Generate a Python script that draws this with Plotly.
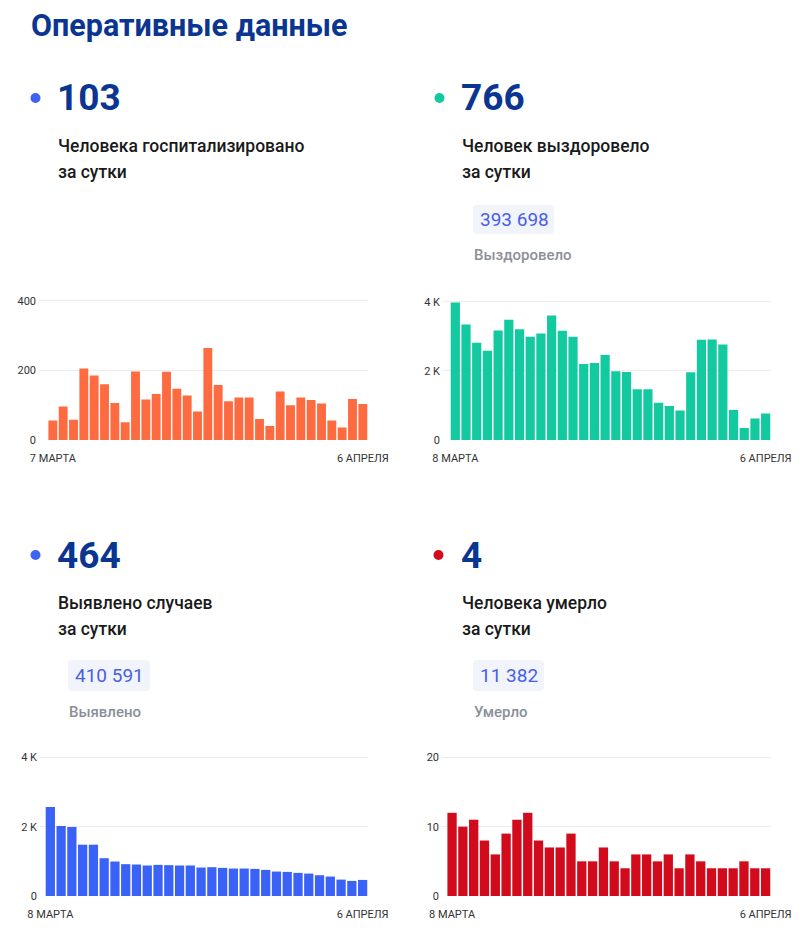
import pandas as pd
import plotly.graph_objects as go

W, H = 809, 939

# ---------------- data ----------------
dates_hosp = [d.strftime("%Y-%m-%d") for d in pd.date_range("2021-03-07", "2021-04-06")]
dates_30 = [d.strftime("%Y-%m-%d") for d in pd.date_range("2021-03-08", "2021-04-06")]

hospitalized = [56, 96, 58, 205, 185, 160, 106, 51, 197, 116, 132, 196, 147, 128, 82, 264,
                158, 111, 122, 122, 60, 40, 139, 100, 122, 115, 105, 56, 36, 118, 103]
recovered = [3980, 3340, 2810, 2580, 3170, 3480, 3200, 2985, 3080, 3600, 3160, 2985, 2200,
             2230, 2460, 1990, 1970, 1470, 1470, 1080, 985, 850, 1960, 2900, 2910, 2760,
             870, 350, 620, 766]
cases = [2570, 2020, 1990, 1480, 1480, 1090, 995, 918, 908, 880, 898, 889, 880, 880, 821,
         831, 811, 792, 792, 782, 753, 705, 695, 667, 647, 599, 560, 473, 435, 464]
deaths = [12, 10, 11, 8, 6, 9, 11, 12, 8, 7, 7, 9, 5, 5, 7, 5, 4, 6, 6, 5, 6, 4, 6, 5,
          4, 4, 4, 5, 4, 4]

title_text = "Оперативные данные"
big_numbers = ["103", "766", "464", "4"]
captions_1 = ["Человека госпитализировано", "Человек выздоровело", "Выявлено случаев", "Человека умерло"]
captions_2 = ["за сутки", "за сутки", "за сутки", "за сутки"]
totals = [None, "393 698", "410 591", "11 382"]
total_labels = [None, "Выздоровело", "Выявлено", "Умерло"]
x_start_labels = ["7 МАРТА", "8 МАРТА", "8 МАРТА", "8 МАРТА"]
x_end_label = "6 АПРЕЛЯ"
y_tickvals = [[0, 200, 400], [0, 2000, 4000], [0, 2000, 4000], [0, 10, 20]]
y_ticktext = [["0", "200", "400"], ["0", "2 K", "4 K"], ["0", "2 K", "4 K"], ["0", "10", "20"]]

# ---------------- styles ----------------
FONT = "Roboto"
DARK_BLUE = "#0a3590"
BAR_COLORS = ["#ff6b40", "#13c9a0", "#3a62f6", "#d10a1c"]
DOT_COLORS = ["#3d63f4", "#13c9a0", "#3d63f4", "#d10a1c"]


def px(x):
    return x / W


def py(y):
    return 1 - y / H


fig = go.Figure()

series = [(dates_hosp, hospitalized), (dates_30, recovered), (dates_30, cases), (dates_30, deaths)]
# plot areas in pixels: (left, right, top, bottom), y range max, left pad in category units
areas = [
    (39, 368, 293.7, 440, 420, -1.34),
    (443, 771, 294.8, 440, 4200, -1.15),
    (40, 368, 750.4, 896, 4200, -0.96),
    (442, 771, 750.4, 896, 21, -0.93),
]

layout_axes = {}
for i, ((xs, ys), (l, r, t, b, ymax, xpad)) in enumerate(zip(series, areas)):
    n = "" if i == 0 else str(i + 1)
    fig.add_trace(go.Bar(
        x=xs, y=ys, xaxis="x" + n, yaxis="y" + n,
        marker=dict(color=BAR_COLORS[i], line=dict(width=0)),
        hoverinfo="x+y", showlegend=False,
    ))
    layout_axes["xaxis" + n] = dict(
        domain=[px(l), px(r)], anchor="y" + n, type="category",
        range=[xpad, len(xs) - 0.5], showgrid=False, zeroline=False, showline=False,
        tickvals=[xs[0], xs[-1]], ticktext=[x_start_labels[i], x_end_label],
        ticks="", tickfont=dict(family=FONT, size=11, color="#333333"),
        ticklabelstandoff=10, fixedrange=True, automargin=False,
    )
    layout_axes["yaxis" + n] = dict(
        domain=[py(b), py(t)], anchor="x" + n, range=[0, ymax],
        tickvals=y_tickvals[i], ticktext=y_ticktext[i],
        showgrid=True, gridcolor="#ededed", gridwidth=1, zeroline=False, showline=False,
        ticks="", tickfont=dict(family=FONT, size=11, color="#333333"),
        ticklabelstandoff=2, fixedrange=True, automargin=False,
    )

annotations = []
shapes = []

annotations.append(dict(
    text=title_text, x=px(29), y=py(26), xref="paper", yref="paper",
    xanchor="left", yanchor="middle", showarrow=False,
    font=dict(family=FONT, size=30.5, color=DARK_BLUE, weight=700),
))

# blocks: dot center, number x, number y, caption y, box
blocks = [
    dict(dot=(35.5, 98), nx=55, ny=98, cy=146, box=None),
    dict(dot=(439.5, 98), nx=459, ny=98, cy=146, box=(473, 554, 205, 234)),
    dict(dot=(35.5, 555), nx=55, ny=555, cy=603, box=(68, 150, 660, 691)),
    dict(dot=(438.5, 555), nx=459, ny=555, cy=603, box=(473, 544, 660, 691)),
]

for i, blk in enumerate(blocks):
    cx, cy0 = blk["dot"]
    r = 5
    shapes.append(dict(type="circle", xref="paper", yref="paper",
                       x0=px(cx - r), x1=px(cx + r), y0=py(cy0 + r), y1=py(cy0 - r),
                       fillcolor=DOT_COLORS[i], line=dict(width=0)))
    annotations.append(dict(
        text=big_numbers[i], x=px(blk["nx"]), y=py(blk["ny"]), xref="paper", yref="paper",
        xanchor="left", yanchor="middle", showarrow=False,
        font=dict(family=FONT, size=37, color=DARK_BLUE, weight=700),
    ))
    annotations.append(dict(
        text=captions_1[i], x=px(blk["nx"] + 1), y=py(blk["cy"]), xref="paper", yref="paper",
        xanchor="left", yanchor="middle", showarrow=False,
        font=dict(family=FONT, size=17.5, color="#1a1a1a", weight=500),
    ))
    annotations.append(dict(
        text=captions_2[i], x=px(blk["nx"] + 1), y=py(blk["cy"] + 26), xref="paper", yref="paper",
        xanchor="left", yanchor="middle", showarrow=False,
        font=dict(family=FONT, size=17.5, color="#1a1a1a", weight=500),
    ))
    if blk["box"] is not None:
        x0, x1, y0, y1 = blk["box"]
        rr = 4
        path = (f"M {px(x0 + rr)},{py(y0)} L {px(x1 - rr)},{py(y0)} "
                f"Q {px(x1)},{py(y0)} {px(x1)},{py(y0 + rr)} L {px(x1)},{py(y1 - rr)} "
                f"Q {px(x1)},{py(y1)} {px(x1 - rr)},{py(y1)} L {px(x0 + rr)},{py(y1)} "
                f"Q {px(x0)},{py(y1)} {px(x0)},{py(y1 - rr)} L {px(x0)},{py(y0 + rr)} "
                f"Q {px(x0)},{py(y0)} {px(x0 + rr)},{py(y0)} Z")
        shapes.append(dict(type="path", xref="paper", yref="paper", path=path,
                           fillcolor="#f1f4fb", line=dict(width=0), layer="below"))
        annotations.append(dict(
            text=totals[i], x=px(x0 + 5), y=py((y0 + y1) / 2), xref="paper", yref="paper",
            xanchor="left", yanchor="middle", showarrow=False,
            font=dict(family=FONT, size=19, color="#4a5ee6"),
        ))
        annotations.append(dict(
            text=total_labels[i], x=px(x0 - 1), y=py(y1 + 21), xref="paper", yref="paper",
            xanchor="left", yanchor="middle", showarrow=False,
            font=dict(family=FONT, size=15, color="#8b8f99", weight=500),
        ))

fig.update_layout(
    width=W, height=H, margin=dict(l=0, r=0, t=0, b=0, autoexpand=False),
    paper_bgcolor="white", plot_bgcolor="white",
    bargap=0.14, showlegend=False,
    annotations=annotations, shapes=shapes,
    font=dict(family=FONT),
    **layout_axes,
)

fig.write_html("out.html", config={"displayModeBar": False},
               post_script="document.body.style.margin='0';document.body.style.overflow='hidden';")
